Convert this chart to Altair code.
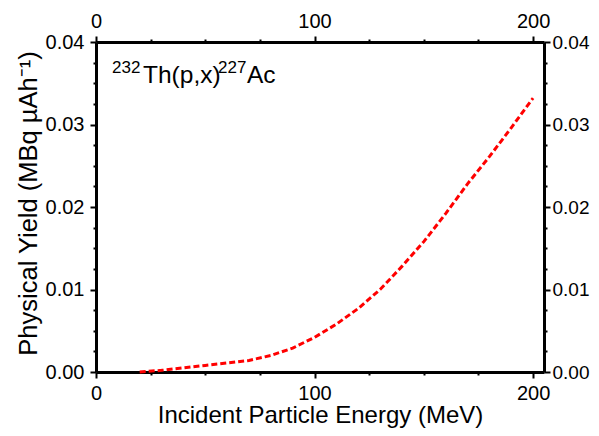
import altair as alt
import pandas as pd

# Data
energy = [20, 30, 40, 50, 60, 70, 80, 90, 100, 110, 120, 130, 140, 150, 160, 170, 180, 190, 200]
yield_ = [0.0, 0.0002, 0.0005, 0.0008, 0.0011, 0.0014, 0.0020, 0.0029, 0.0042, 0.0058,
          0.0077, 0.0100, 0.0128, 0.0158, 0.0192, 0.0228, 0.0261, 0.0296, 0.0332]

x_ticks = [0, 25, 50, 75, 100, 125, 150, 175, 200]
y_ticks = [i * 0.0025 for i in range(17)]

df = pd.DataFrame({"E": energy, "Y": yield_})

FONT = "Liberation Sans"
x_scale = alt.Scale(domain=[0, 205], nice=False, zero=False)
y_scale = alt.Scale(domain=[0, 0.04], nice=False)

x_major = "datum.value % 100 == 0"
y_major = "abs(datum.value*100 - round(datum.value*100)) < 1e-6"


def x_axis(orient, title):
    kw = dict(
        orient=orient, values=x_ticks, format="d",
        labelExpr=f"({x_major}) ? datum.label : ''",
        tickSize={"condition": {"test": x_major, "value": 6}, "value": 3},
        tickWidth=2, tickColor="black", domainWidth=3, domainColor="black",
        labelFont=FONT, labelFontSize=20, labelColor="black", labelPadding=5,
        grid=False, labelFlush=False,
    )
    if title:
        kw.update(title=title, titleFont=FONT, titleFontSize=24, titleFontWeight="normal",
                  titleColor="black", titleBaseline="alphabetic", titleY=50)
    else:
        kw.update(title=None)
    return alt.Axis(**kw)


def y_axis(orient, title, pad, size):
    kw = dict(
        orient=orient, values=y_ticks, format=".2f",
        labelExpr=f"({y_major}) ? datum.label : ''",
        tickSize={"condition": {"test": y_major, "value": 6}, "value": 3},
        tickWidth=2, tickColor="black", domainWidth=3, domainColor="black",
        labelFont=FONT, labelFontSize=size, labelColor="black", labelPadding=pad,
        grid=False, labelFlush=False,
    )
    if title:
        kw.update(title=title, titleFont=FONT, titleFontSize=25.5, titleFontWeight="normal",
                  titleColor="black", titleBaseline="alphabetic", titleX=-60, titleY=161)
    else:
        kw.update(title=None)
    return alt.Axis(**kw)


line = alt.Chart(df).mark_line(color="#ff0000", strokeWidth=3, strokeDash=[6, 3]).encode(
    x=alt.X("E:Q", scale=x_scale, axis=x_axis("bottom", "Incident Particle Energy (MeV)")),
    y=alt.Y("Y:Q", scale=y_scale, axis=y_axis("left", "Physical Yield (MBq µAh⁻¹)", 6, 20)),
)

mirror = alt.Chart(df).mark_line(opacity=0).encode(
    x=alt.X("E:Q", scale=x_scale, axis=x_axis("top", None)),
    y=alt.Y("Y:Q", scale=y_scale, axis=y_axis("right", None, 2, 19)),
)


def label(txt, x, y, size):
    return alt.Chart(pd.DataFrame({"t": [txt]})).mark_text(
        font=FONT, fontSize=size, align="left", baseline="alphabetic", color="black"
    ).encode(x=alt.value(x), y=alt.value(y), text="t:N")


annot = (label("232", 16, 31, 17) + label("Th(p,x)", 47, 41, 24.5)
         + label("227", 122, 31, 17) + label("Ac", 151, 41, 24.5))

chart = alt.layer(line, mirror, annot).resolve_axis(
    x="independent", y="independent"
).properties(
    width=448, height=330,
    autosize=alt.AutoSizeParams(type="none"),
    padding={"left": 88, "top": 34, "right": 47, "bottom": 56},
).configure_view(stroke=None)

chart.save("out.html", embed_options={"renderer": "svg", "actions": False})
